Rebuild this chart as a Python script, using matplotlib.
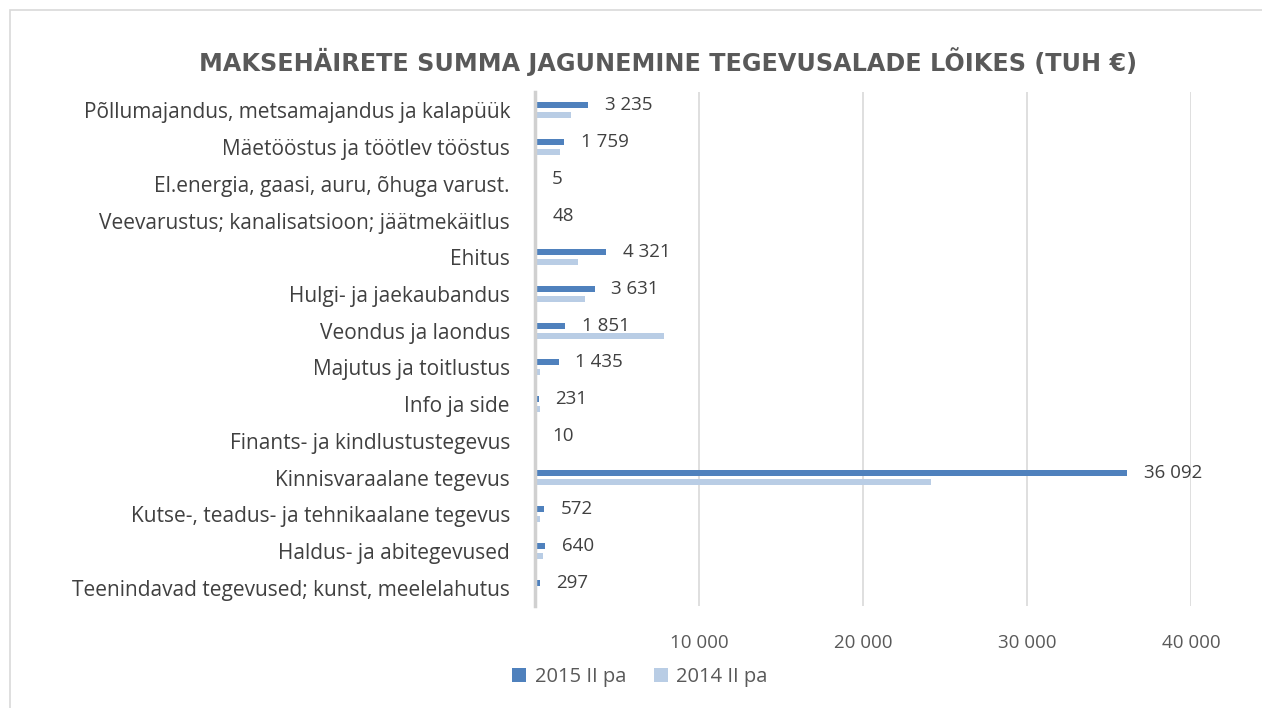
import matplotlib
matplotlib.use("Agg")
import matplotlib.pyplot as plt
from matplotlib.patches import Rectangle
import numpy as np

categories = [
    "Põllumajandus, metsamajandus ja kalapüük",
    "Mäetööstus ja töötlev tööstus",
    "El.energia, gaasi, auru, õhuga varust.",
    "Veevarustus; kanalisatsioon; jäätmekäitlus",
    "Ehitus",
    "Hulgi- ja jaekaubandus",
    "Veondus ja laondus",
    "Majutus ja toitlustus",
    "Info ja side",
    "Finants- ja kindlustustegevus",
    "Kinnisvaraalane tegevus",
    "Kutse-, teadus- ja tehnikaalane tegevus",
    "Haldus- ja abitegevused",
    "Teenindavad tegevused; kunst, meelelahutus",
]
values_2015 = [3235, 1759, 5, 48, 4321, 3631, 1851, 1435, 231, 10, 36092, 572, 640, 297]
values_2014 = [2180, 1550, 0, 0, 2600, 3070, 7880, 290, 300, 0, 24150, 330, 490, 100]
xticks = [10000, 20000, 30000, 40000]
xtick_labels = ["10 000", "20 000", "30 000", "40 000"]

def fmt(v):
    return f"{v:,}".replace(",", " ")

plt.rcParams['font.family'] = ['Open Sans', 'DejaVu Sans']
W, H = 1262, 708
fig = plt.figure(figsize=(W / 100, H / 100), dpi=100)
fig.patch.set_facecolor("white")
fig.patches.append(Rectangle((10 / W, -0.01), 1.02, (H - 10) / H + 0.01, transform=fig.transFigure,
                             fill=False, edgecolor="#D9D9D9", linewidth=1.2))

left, right, top, bottom = 535, 1191, 92, 606
ax = fig.add_axes([left / W, 1 - bottom / H, (right - left) / W, (bottom - top) / H])

n = len(categories)
y = np.arange(n)
h = 0.165
off = 0.135
ax.barh(y - off, values_2015, height=h, color="#4F81BD", label="2015 II pa", zorder=3)
ax.barh(y + off, values_2014, height=h, color="#B9CDE5", label="2014 II pa", zorder=3)

for yi, v in zip(y, values_2015):
    ax.annotate(fmt(v), xy=(v, yi - off), xytext=(12, 0), textcoords="offset points",
                ha="left", va="center", fontsize=13.5, color="#404040")

ax.set_ylim(n - 0.5, -0.5)
ax.set_xlim(0, 40000)
ax.set_yticks(y)
ax.set_yticklabels(categories, fontsize=15, color="#404040")
ax.set_xticks(xticks)
ax.set_xticklabels(xtick_labels, fontsize=13.5, color="#595959")
ax.tick_params(axis="y", length=0, pad=18)
ax.tick_params(axis="x", length=0, pad=20)
ax.grid(axis="x", color="#D9D9D9", linewidth=1.2, zorder=0)
ax.set_axisbelow(True)
for s in ["top", "right", "bottom"]:
    ax.spines[s].set_visible(False)
ax.spines["left"].set_color("#D0D0D0")
ax.spines["left"].set_linewidth(2.5)
ax.spines["left"].set_zorder(4)

fig.text(668 / W, 1 - 62 / H, "MAKSEHÄIRETE SUMMA JAGUNEMINE TEGEVUSALADE LÕIKES (TUH €)",
         ha="center", va="center", fontsize=17.2, fontweight="bold", color="#595959",
         family=["DejaVu Sans"])

leg = fig.legend(loc="center", bbox_to_anchor=(640 / W, 1 - 677 / H), ncol=2, frameon=False,
                 fontsize=14.5, handlelength=0.7, handleheight=0.7, handletextpad=0.4,
                 columnspacing=1.4)
for t in leg.get_texts():
    t.set_color("#595959")

fig.savefig("out.png", dpi=100, facecolor="white")
